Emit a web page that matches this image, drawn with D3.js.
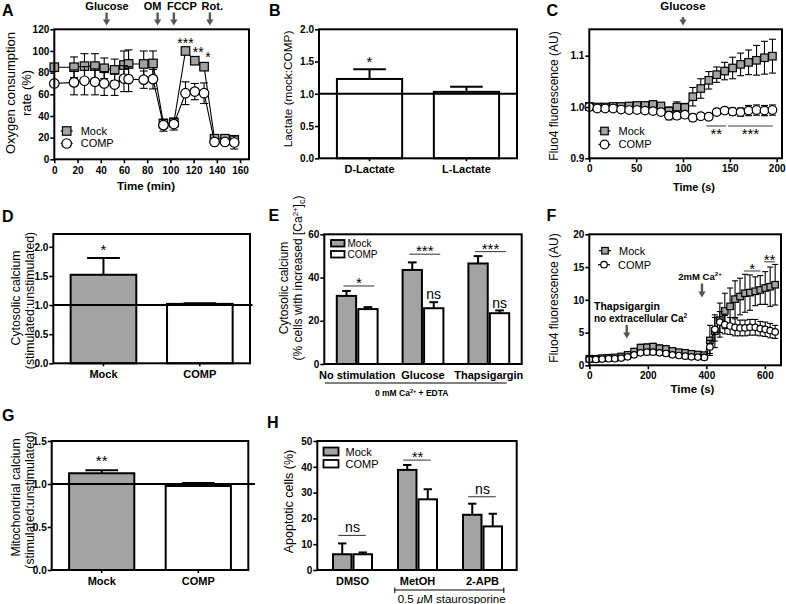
<!DOCTYPE html>
<html><head><meta charset="utf-8">
<script src="https://cdn.jsdelivr.net/npm/d3@7/dist/d3.min.js"></script>
<style>html,body{margin:0;padding:0;background:#fff;}svg{display:block}</style>
</head><body>
<svg id="chart" width="786" height="604" xmlns="http://www.w3.org/2000/svg"></svg>
<script>
// ================= DATA =================
// Panel A – oxygen consumption
const aTime    = [0,17,26,35,43,52,60,64,77,85,94,103,113,121,129,138,147,155];
const aMock    = [85,85,86,86,84,82.5,87,88,88,88.5,33,34,100,91,85.5,19,19,18];
const aMockErr = [1.5,9.5,11.5,11.5,9.5,10,13,13,12,11.5,3,3,1,2,2.5,2,2,2.5];
const aComp    = [70,71,72.5,71.5,70,69,74.5,74,73.5,74,31.5,32.5,61,62.5,61,16,16,15.5];
const aCompErr = [2.5,11.5,13,12,11,10,12,11.5,8,9,5.5,5.5,10.5,7.5,9.5,2.5,2,6];
const aEvents     = ['Glucose','OM','FCCP','Rot.'];
const aEventTimes = [45,89,103,134];
const aSigIdx    = [12,13,14];
const aSigLabels = ['***','**','*'];
const aXTicks = [0,20,40,60,80,100,120,140,160];
const aYTicks = [0,20,40,60,80,100,120];

// Panel B – lactate
const bCats = ['D-Lactate','L-Lactate'];
const bVals = [1.23,1.03];
const bErr  = [0.15,0.08];
const bYTicks = [0,0.5,1.0,1.5,2.0];

// Panel C – Fluo4, glucose
const cTime    = [0,8.5,17,25.5,34,42.5,51,59.5,68,76.5,85,93.5,102,110.5,119,127.5,136,144.5,153,161.5,170,178.5,187,195.5];
const cMock    = [1.001,1.000,1.000,1.001,1.001,1.002,1.003,1.003,1.005,1.002,0.992,1.000,0.999,1.020,1.036,1.052,1.063,1.070,1.076,1.083,1.087,1.091,1.096,1.099];
const cMockErr = [0.002,0.002,0.002,0.002,0.002,0.003,0.003,0.003,0.004,0.004,0.008,0.010,0.008,0.018,0.019,0.017,0.015,0.017,0.021,0.022,0.024,0.029,0.032,0.033];
const cComp    = [1.000,0.997,0.997,0.997,0.995,0.994,0.994,0.993,0.992,0.990,0.983,0.983,0.985,0.979,0.982,0.981,0.990,0.993,0.991,0.990,0.993,0.994,0.993,0.994];
const cCompErr = [0.002,0.002,0.002,0.002,0.002,0.002,0.002,0.003,0.004,0.005,0.008,0.007,0.006,0.007,0.006,0.006,0.006,0.006,0.007,0.008,0.010,0.010,0.010,0.010];
const cSigFrom  = [125,148];
const cSigTo    = [146,196];
const cSigLabel = ['**','***'];
const cXTicks = [0,50,100,150,200];
const cYTicks = [0.9,1.0,1.1];

// Panel D – cytosolic calcium ratio
const dCats = ['Mock','COMP'];
const dVals = [1.52,1.02];
const dErr  = [0.29,0.01];
const dYTicks = [0,0.5,1.0,1.5,2.0];

// Panel E – % cells with increased Ca
const eGroups  = ['No stimulation','Glucose','Thapsigargin'];
const eSeries  = ['Mock','COMP'];
const eMock    = [31.5,43.5,46.5];
const eMockErr = [2.3,3.5,3.4];
const eComp    = [25.4,25.8,23.5];
const eCompErr = [0.9,2.8,1.3];
const eSig     = ['*','***','***'];
const eSigY    = [36.1,50.8,52];
const eCompSig = ['','ns','ns'];
const eYTicks  = [0,20,40,60];

// Panel F – Fluo4, thapsigargin
const fTime    = [0,22,44,66,87,109,131,153,175,197,218,240,262,284,306,328,349,371,393,
                  412,429,446,463,481,498,515,532,549,567,584,601,618,635];
const fMock    = [1.0,1.0,1.1,1.15,1.2,1.35,1.6,2.1,2.7,2.75,2.85,2.6,2.5,2.2,2.0,1.9,1.75,1.65,1.55,
                  3.8,5.2,6.9,8.3,9.0,10.1,10.5,11.0,11.1,11.3,11.5,11.8,12.0,12.3];
const fMockErr = [0.3,0.3,0.3,0.3,0.3,0.3,0.4,0.4,0.5,0.5,0.5,0.5,0.4,0.4,0.4,0.4,0.4,0.4,0.4,
                  2.3,2.5,2.6,2.7,2.8,2.8,2.8,2.9,2.7,2.2,2.2,2.5,3.0,3.1];
const fComp    = [0.9,0.9,0.95,1.0,1.0,1.1,1.3,1.6,1.9,2.0,2.0,1.9,1.8,1.6,1.5,1.4,1.3,1.25,1.2,
                  2.8,5.5,6.6,6.2,6.0,5.8,5.7,5.7,5.8,5.8,5.6,5.5,5.3,5.1];
const fCompErr = [0.2,0.2,0.2,0.2,0.2,0.2,0.3,0.3,0.3,0.3,0.3,0.3,0.3,0.3,0.3,0.3,0.3,0.3,0.3,
                  1.0,1.8,1.6,1.4,1.3,1.3,1.2,1.2,1.2,1.2,1.1,1.1,1.1,1.0];
const fSigFrom  = [528,598];
const fSigTo    = [585,634];
const fSigY     = [14.4,15.8];
const fSigLabel = ['*','**'];
const fXTicks = [0,200,400,600];
const fYTicks = [0,5,10,15,20];

// Panel G – mitochondrial calcium ratio
const gCats = ['Mock','COMP'];
const gVals = [1.125,0.977];
const gErr  = [0.035,0.035];
const gYTicks = [0,0.5,1.0,1.5];

// Panel H – apoptotic cells
const hGroups  = ['DMSO','MetOH','2-APB'];
const hSeries  = ['Mock','COMP'];
const hMock    = [6.1,38.8,21.4];
const hMockErr = [4.2,1.9,4.3];
const hComp    = [6.1,27.4,16.9];
const hCompErr = [0.7,3.9,4.9];
const hSig     = ['ns','**','ns'];
const hSigY    = [13.4,42.6,28.4];
const hYTicks  = [0,10,20,30,40,50];

// ================= DRAWING =================
const svg = d3.select('#chart');
const FONT = '"Liberation Sans", Arial, Helvetica, sans-serif';
svg.attr('font-family', FONT);
const GRAY = '#a3a3a3';
const ARROW_C = '#4e5c4c';
const SIGC = '#444';

function rich(t, parts, fs){
  let shift = 0;
  parts.forEach(p => {
    const str = Array.isArray(p) ? p[0] : p;
    const kind = Array.isArray(p) ? p[1] : null;
    const ts = t.append('tspan').text(str);
    let target = 0;
    if (kind === 'sup'){ ts.attr('font-size', fs*0.65); target = -fs*0.38; }
    else if (kind === 'sub'){ ts.attr('font-size', fs*0.75); target = fs*0.22; }
    if (target !== shift){ ts.attr('dy', target - shift); shift = target; }
  });
}
function txt(x, y, s, o = {}){
  const fs = o.fs || 11;
  const t = svg.append('text').attr('x', x).attr('y', y)
    .attr('font-size', fs).attr('font-weight', o.fw || 'normal')
    .attr('text-anchor', o.anchor || 'middle').attr('fill', o.fill || '#000');
  if (Array.isArray(s)) rich(t, s, fs); else t.text(s);
  return t;
}
// rotated y titles: lines, x centres, y centres
function vtitle(lines, xs, ycs, fs){
  lines.forEach((ln, i) => {
    const t = svg.append('text')
      .attr('transform', `translate(${xs[i] + fs*0.35},${ycs[i]}) rotate(-90)`)
      .attr('text-anchor','middle').attr('font-size', fs).attr('fill','#000');
    if (Array.isArray(ln)) rich(t, ln, fs); else t.text(ln);
  });
}
function frame(x0, y0, x1, y1){
  svg.append('rect').attr('x', x0).attr('y', y0).attr('width', x1 - x0).attr('height', y1 - y0)
    .attr('fill','none').attr('stroke','#000').attr('stroke-width', 2);
}
function styleAxis(g, fs){
  g.select('.domain').remove();
  g.selectAll('.tick line').attr('stroke','#000').attr('stroke-width', 1.6);
  g.selectAll('.tick text').attr('font-family', FONT).attr('font-size', fs).attr('font-weight','bold').attr('fill','#000');
}
function yAxis(scale, x, ticks, fmt){
  const g = svg.append('g').attr('transform', `translate(${x},0)`)
    .call(d3.axisLeft(scale).tickValues(ticks).tickSize(4).tickPadding(1).tickFormat(fmt || d3.format('d')));
  styleAxis(g, 10);
}
function xAxis(scale, y, ticks, fmt, pad){
  const g = svg.append('g').attr('transform', `translate(0,${y})`)
    .call(d3.axisBottom(scale).tickValues(ticks).tickSize(4).tickPadding(pad).tickFormat(fmt || d3.format('d')));
  styleAxis(g, 10);
}
function catAxis(scale, y, fs, ticks){
  const g = svg.append('g').attr('transform', `translate(0,${y})`)
    .call(d3.axisBottom(scale).tickSize(ticks ? 3 : 0).tickPadding(ticks ? 4 : 7));
  styleAxis(g, fs);
}
function vline(x, y1, y2, w, c){
  svg.append('line').attr('x1', x).attr('x2', x).attr('y1', y1).attr('y2', y2)
    .attr('stroke', c || '#000').attr('stroke-width', w);
}
function hline(x1, x2, y, w, c){
  svg.append('line').attr('x1', x1).attr('x2', x2).attr('y1', y).attr('y2', y)
    .attr('stroke', c || '#000').attr('stroke-width', w);
}
function arrow(x, y0, y1){
  vline(x, y0, y1 - 5, 2.4, ARROW_C);
  svg.append('path').attr('d', `M${x-3.6},${y1-6}L${x+3.6},${y1-6}L${x},${y1}Z`).attr('fill', ARROW_C);
}
function marker(g, cx, cy, shape, size){
  if (shape === 'square'){
    g.append('rect').attr('x', cx - size/2).attr('y', cy - size/2).attr('width', size).attr('height', size)
      .attr('fill', GRAY).attr('stroke','#000').attr('stroke-width', 1.2);
  } else {
    g.append('circle').attr('cx', cx).attr('cy', cy).attr('r', size/2)
      .attr('fill','#fff').attr('stroke','#000').attr('stroke-width', 1.2);
  }
}
function series(xs, ys, es, X, Y, shape, size, capW){
  const g = svg.append('g');
  xs.forEach((t, i) => {
    const cx = X(t), yt = Y(ys[i] + es[i]), yb = Y(ys[i] - es[i]);
    g.append('line').attr('x1', cx).attr('x2', cx).attr('y1', yt).attr('y2', yb).attr('stroke','#000').attr('stroke-width', 1.1);
    [yt, yb].forEach(yy => g.append('line').attr('x1', cx - capW/2).attr('x2', cx + capW/2)
      .attr('y1', yy).attr('y2', yy).attr('stroke','#000').attr('stroke-width', 1.1));
  });
  g.append('path').attr('d', d3.line()(xs.map((t, i) => [X(t), Y(ys[i])])))
    .attr('fill','none').attr('stroke','#000').attr('stroke-width', 1.1);
  xs.forEach((t, i) => marker(g, X(t), Y(ys[i]), shape, size));
}
function legendItem(cx, cy, shape, size, label, fs, halfLen){
  const g = svg.append('g');
  g.append('line').attr('x1', cx - halfLen).attr('x2', cx + halfLen).attr('y1', cy).attr('y2', cy)
    .attr('stroke','#000').attr('stroke-width', 1.2);
  marker(g, cx, cy, shape, size);
  txt(cx + halfLen + 8, cy + fs*0.36, label, {fs: fs, anchor: 'start'});
}
function barErr(cx, yTop, yErr, capW){
  vline(cx, yTop, yErr, 2);
  hline(cx - capW/2, cx + capW/2, yErr, 2);
}
function star(x, y, label, fs){ txt(x, y, label, {fs: fs || 15}); }

// ---------- Panel letters ----------
[['A',2,16],['B',269,15.5],['C',546.5,15.5],['D',2,221.7],['E',268.5,221],['F',546.5,221],['G',2,421],['H',267,427.7]]
  .forEach(([l, x, y]) => txt(x, y, l, {fs: 16, fw: 'bold', anchor: 'start'}));

// ---------- Panel A ----------
{
  const X = d3.scaleLinear([0,167.7],[54.3,249]);
  const Y = d3.scaleLinear([0,120],[159.3,29.3]);
  series(aTime, aMock, aMockErr, X, Y, 'square', 8.5, 8);
  series(aTime, aComp, aCompErr, X, Y, 'circle', 9.5, 8);
  const sigDx = [0, 3.5, 4];
  aSigIdx.forEach((idx, k) => star(X(aTime[idx]) + sigDx[k], Y(aMock[idx] + aMockErr[idx]) - 2, aSigLabels[k], 14));
  legendItem(66.7, 131, 'square', 8.5, 'Mock', 11, 6);
  legendItem(66.7, 143.5, 'circle', 9.5, 'COMP', 11, 6);
  frame(54.3, 29.3, 249, 159.3);
  yAxis(Y, 54.3, aYTicks);
  xAxis(X, 159.3, aXTicks, null, 4);
  const labelDx = [0.5, -5, 8, 2.4];
  aEvents.forEach((e, i) => {
    arrow(X(aEventTimes[i]), 12.5, 25.5);
    txt(X(aEventTimes[i]) + labelDx[i], 10, e, {fs: 11, fw: 'bold'});
  });
  txt(146, 190, 'Time (min)', {fs: 11.5, fw: 'bold'});
  vtitle(['Oxygen consumption','rate (%)'], [10, 26.5], [93, 93], 13);
}

// ---------- Panel B ----------
{
  const X = d3.scaleBand(bCats, [319,517]).paddingInner(0.327).paddingOuter(0.185);
  const Y = d3.scaleLinear([0,2],[158.3,29.3]);
  const bw = X.bandwidth();
  bCats.forEach((c, i) => {
    barErr(X(c) + bw/2, Y(bVals[i]), Y(bVals[i] + bErr[i]), bw*0.5);
    svg.append('rect').attr('x', X(c)).attr('y', Y(bVals[i])).attr('width', bw).attr('height', Y(0) - Y(bVals[i]))
      .attr('fill','#fff').attr('stroke','#000').attr('stroke-width', 2);
  });
  hline(319, 517, Y(1), 2);
  star(X('D-Lactate') + bw/2, Y(bVals[0] + bErr[0]) - 2, '*');
  frame(319, 29.3, 517, 158.3);
  yAxis(Y, 319, bYTicks, d3.format('.1f'));
  catAxis(X, 158.3, 11, true);
  vtitle(['Lactate (mock:COMP)'], [288.3], [89], 11.8);
}

// ---------- Panel C ----------
{
  const X = d3.scaleLinear([0,205.7],[589.3,782]);
  const Y = d3.scaleLinear([0.9,1.1514],[158.3,29.3]);
  series(cTime, cMock, cMockErr, X, Y, 'square', 7.5, 7);
  series(cTime, cComp, cCompErr, X, Y, 'circle', 8.6, 7);
  cSigFrom.forEach((f, i) => {
    hline(X(f), X(cSigTo[i]), Y(0.963), 1.1, SIGC);
    star((X(f) + X(cSigTo[i]))/2, Y(0.963) + 13.5, cSigLabel[i]);
  });
  legendItem(604.5, 131, 'square', 7.5, 'Mock', 11, 6);
  legendItem(604.5, 144.5, 'circle', 8.6, 'COMP', 11, 6);
  frame(589.3, 29.3, 782, 158.3);
  yAxis(Y, 589.3, cYTicks, d3.format('.1f'));
  xAxis(X, 158.3, cXTicks, null, 3);
  arrow(X(100), 17, 25.5);
  txt(X(100), 10, 'Glucose', {fs: 11.5, fw: 'bold'});
  txt(694, 190.5, 'Time (s)', {fs: 11, fw: 'bold'});
  vtitle(['Fluo4 fluorescence (AU)'], [553.3], [96], 12);
}

// ---------- Panel D ----------
{
  const X = d3.scaleBand(dCats, [53.3,250]).paddingInner(0.319).paddingOuter(0.18);
  const Y = d3.scaleLinear([0,2.22],[363.3,234]);
  const bw = X.bandwidth();
  dCats.forEach((c, i) => {
    barErr(X(c) + bw/2, Y(dVals[i]), Y(dVals[i] + dErr[i]), bw*0.5);
    svg.append('rect').attr('x', X(c)).attr('y', Y(dVals[i])).attr('width', bw).attr('height', Y(0) - Y(dVals[i]))
      .attr('fill', i === 0 ? GRAY : '#fff').attr('stroke','#000').attr('stroke-width', 2);
  });
  hline(53.3, 252.5, Y(1), 2);
  star(X('Mock') + bw/2, Y(dVals[0] + dErr[0]) - 3, '*');
  frame(53.3, 234, 250, 363.3);
  yAxis(Y, 53.3, dYTicks, d3.format('.1f'));
  catAxis(X, 363.3, 11, true);
  vtitle(['Cytosolic calcium','(stimulated:unstimulated)'], [15.5, 29.5], [298, 300.5], 12.3);
}

// ---------- Panel E ----------
{
  const X0 = d3.scaleBand(eGroups, [324.3,521.7]);
  const X1 = d3.scaleBand(eSeries, [12.5, X0.bandwidth() - 12.5]).paddingInner(0.1);
  const Y = d3.scaleLinear([0,60],[364,234.3]);
  const bw = X1.bandwidth();
  eGroups.forEach((gName, i) => {
    [[eMock, eMockErr, GRAY, 'Mock'], [eComp, eCompErr, '#fff', 'COMP']].forEach(([v, e, fill, s]) => {
      const x = X0(gName) + X1(s);
      barErr(x + bw/2, Y(v[i]), Y(v[i] + e[i]), bw*0.45);
      svg.append('rect').attr('x', x).attr('y', Y(v[i])).attr('width', bw).attr('height', Y(0) - Y(v[i]))
        .attr('fill', fill).attr('stroke','#000').attr('stroke-width', 2);
    });
    const mc = X0(gName) + X1('Mock') + bw/2, cc = X0(gName) + X1('COMP') + bw/2;
    const lineY = Y(eSigY[i]);
    hline(mc - 3, cc + 6.5, lineY, 1.1, SIGC);
    star((mc - 3 + cc + 6.5)/2, lineY + 2, eSig[i]);
    if (eCompSig[i]) txt(cc, Y(eComp[i] + eCompErr[i]) - 2.8, eCompSig[i], {fs: 14});
  });
  // legend
  svg.append('rect').attr('x', 331).attr('y', 240).attr('width', 13.5).attr('height', 6.5).attr('fill', GRAY).attr('stroke','#000').attr('stroke-width', 1.8);
  svg.append('rect').attr('x', 331).attr('y', 251).attr('width', 13.5).attr('height', 6.5).attr('fill', '#fff').attr('stroke','#000').attr('stroke-width', 1.8);
  txt(347.5, 247, 'Mock', {fs: 10, anchor: 'start'});
  txt(347.5, 258, 'COMP', {fs: 10, anchor: 'start'});
  frame(324.3, 234.3, 521.7, 364);
  yAxis(Y, 324.3, eYTicks);
  catAxis(X0, 364, 11, false);
  hline(325, 506.7, 383, 1, '#000');
  txt(411.7, 396, ['0 mM Ca', ['2+','sup'], ' + EDTA'], {fs: 8.5, fw: 'bold'});
  vtitle(['Cytosolic calcium', ['(% cells with increased [Ca', ['2+','sup'], ']', ['c','sub'], ')']], [283.3, 298], [288, 278], 12);
}

// ---------- Panel F ----------
{
  const X = d3.scaleLinear([0,655],[589.3,781]);
  const Y = d3.scaleLinear([0,20],[365.3,234.3]);
  series(fTime, fMock, fMockErr, X, Y, 'square', 6.5, 6);
  series(fTime, fComp, fCompErr, X, Y, 'circle', 6.5, 6);
  fSigFrom.forEach((f, i) => {
    hline(X(f), X(fSigTo[i]), Y(fSigY[i]), 1.1, SIGC);
    star((X(f) + X(fSigTo[i]))/2, Y(fSigY[i]) + 3, fSigLabel[i]);
  });
  legendItem(605, 250.7, 'square', 6.5, 'Mock', 11, 6);
  legendItem(604, 264.7, 'circle', 6.5, 'COMP', 11, 6);
  frame(589.3, 234.3, 781, 365.3);
  yAxis(Y, 589.3, fYTicks);
  xAxis(X, 365.3, fXTicks, null, 2.5);
  arrow(X(128), 325, 338.5);
  txt(594, 310, 'Thapsigargin', {fs: 10.5, fw: 'bold', anchor: 'start'});
  txt(594, 321.5, ['no extracellular Ca', ['2','sup']], {fs: 10, fw: 'bold', anchor: 'start'});
  arrow(X(385), 283.5, 297.5);
  txt(700, 280, ['2mM Ca', ['2+','sup']], {fs: 9.5, fw: 'bold'});
  txt(692.5, 393.3, 'Time (s)', {fs: 11.5, fw: 'bold'});
  vtitle(['Fluo4 fluorescence (AU)'], [553.3], [298], 12);
}

// ---------- Panel G ----------
{
  const X = d3.scaleBand(gCats, [51.7,248.3]).paddingInner(0.325).paddingOuter(0.18);
  const Y = d3.scaleLinear([0,1.5],[570,441]);
  const bw = X.bandwidth();
  gCats.forEach((c, i) => {
    barErr(X(c) + bw/2, Y(gVals[i]), Y(gVals[i] + gErr[i]), bw*0.5);
    svg.append('rect').attr('x', X(c)).attr('y', Y(gVals[i])).attr('width', bw).attr('height', Y(0) - Y(gVals[i]))
      .attr('fill', i === 0 ? GRAY : '#fff').attr('stroke','#000').attr('stroke-width', 2);
  });
  hline(51.7, 255, Y(1), 2);
  star(X('Mock') + bw/2, Y(gVals[0] + gErr[0]) - 4, '**');
  frame(51.7, 441, 248.3, 570);
  yAxis(Y, 51.7, gYTicks, d3.format('.1f'));
  catAxis(X, 570, 11, true);
  vtitle(['Mitochondrial calcium','(stimulated:unstimulated)'], [15.5, 29.5], [497.5, 500], 12.3);
}

// ---------- Panel H ----------
{
  const X0 = d3.scaleBand(hGroups, [320,515]);
  const X1 = d3.scaleBand(hSeries, [13, X0.bandwidth() - 13]).paddingInner(0.1);
  const Y = d3.scaleLinear([0,50],[570,441]);
  const bw = X1.bandwidth();
  hGroups.forEach((gName, i) => {
    [[hMock, hMockErr, GRAY, 'Mock'], [hComp, hCompErr, '#fff', 'COMP']].forEach(([v, e, fill, s]) => {
      const x = X0(gName) + X1(s);
      barErr(x + bw/2, Y(v[i]), Y(v[i] + e[i]), bw*0.45);
      svg.append('rect').attr('x', x).attr('y', Y(v[i])).attr('width', bw).attr('height', Y(0) - Y(v[i]))
        .attr('fill', fill).attr('stroke','#000').attr('stroke-width', 2);
    });
    const mc = X0(gName) + X1('Mock') + bw/2, cc = X0(gName) + X1('COMP') + bw/2;
    const ly = Y(hSigY[i]);
    hline(mc - 4, cc + 3, ly, 1.1, SIGC);
    if (hSig[i] === 'ns') txt((mc + cc)/2, ly - 3, 'ns', {fs: 14});
    else star((mc + cc)/2, ly + 2, hSig[i]);
  });
  svg.append('rect').attr('x', 323.5).attr('y', 447.5).attr('width', 15).attr('height', 8).attr('fill', GRAY).attr('stroke','#000').attr('stroke-width', 1.8);
  svg.append('rect').attr('x', 323.5).attr('y', 460).attr('width', 15).attr('height', 7.5).attr('fill', '#fff').attr('stroke','#000').attr('stroke-width', 1.8);
  txt(345.5, 455.5, 'Mock', {fs: 11, anchor: 'start'});
  txt(345.5, 467.5, 'COMP', {fs: 11, anchor: 'start'});
  frame(317.3, 441, 516.7, 570);
  yAxis(Y, 317.3, hYTicks);
  catAxis(X0, 570, 11, false);
  // staurosporine bracket
  hline(394.3, 504.3, 590, 1);
  vline(394.8, 587.5, 593, 1);
  vline(503.8, 587.5, 593, 1);
  const st = txt(451.7, 602.5, '', {fs: 11.5});
  st.append('tspan').text('0.5 ');
  st.append('tspan').attr('font-style','italic').text('\u03bc');
  st.append('tspan').text('M staurosporine');
  vtitle(['Apoptotic cells (%)'], [288.3], [501.5], 12.5);
}
</script>
</body></html>
